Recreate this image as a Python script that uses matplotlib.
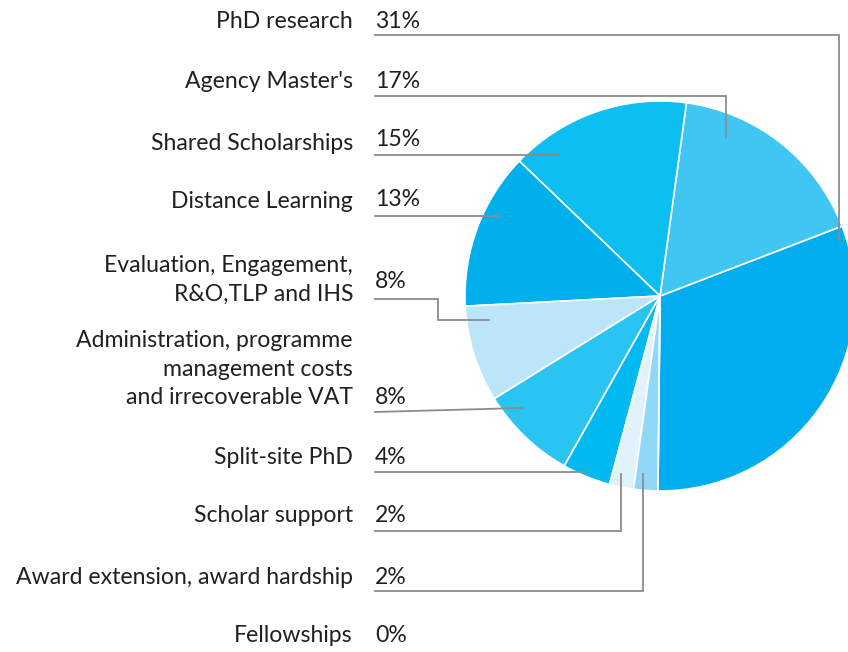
import matplotlib
matplotlib.use("Agg")
import matplotlib.pyplot as plt

# slices, counterclockwise from the bottom
categories = ["PhD research", "Agency Master's", "Shared Scholarships", "Distance Learning",
              "Evaluation, Engagement,\nR&O,TLP and IHS",
              "Administration, programme\nmanagement costs\nand irrecoverable VAT",
              "Split-site PhD", "Scholar support", "Award extension, award hardship", "Fellowships"]
shares = [31, 17, 15, 13, 8, 8, 4, 2, 2, 0]
pct_labels = ["31%", "17%", "15%", "13%", "8%", "8%", "4%", "2%", "2%", "0%"]
colors = ["#00AEEF", "#40C6F3", "#0DBEF0", "#00B0EC", "#BDE5F9",
          "#29C4F2", "#00B9F0", "#E0F3FC", "#8FD8F7", "#FFFFFF"]

W, H = 848, 652
fig = plt.figure(figsize=(W / 100, H / 100), dpi=100)
ax = fig.add_axes([0, 0, 1, 1])

def Y(y):
    return H - y

cx, cy, r = 660, 296, 195
ax.pie(shares, colors=colors, startangle=-90.6, counterclock=True,
       center=(cx, Y(cy)), radius=r, frame=True,
       wedgeprops=dict(edgecolor="white", linewidth=1.2))
ax.set_xlim(0, W)
ax.set_ylim(0, H)
ax.set_aspect("equal")
ax.axis("off")

font = "Lato"
tc = "#231F20"
fs = 16.6
label_y = [21, 81, 144, 202, 280, 369, 458, 516, 577, 636]
pct_y = [21, 81, 140, 200, 282, 397, 458, 516, 577, 636]
for lab, ly, p, py in zip(categories, label_y, pct_labels, pct_y):
    ax.text(353, Y(ly), lab, ha="right", va="center", fontsize=fs, family=font,
            color=tc, linespacing=1.45, multialignment="right")
    ax.text(375, Y(py), p, ha="left", va="center", fontsize=fs, family=font, color=tc)

# leader lines (pixel paths)
leaders = [
    [(375, 35), (839, 35), (839, 240)],
    [(375, 96), (726, 96), (726, 137)],
    [(375, 155), (559, 155)],
    [(375, 216), (501, 216)],
    [(375, 299), (438, 299), (438, 320), (489, 320)],
    [(375, 412), (522, 408)],
    [(375, 472), (586, 472)],
    [(375, 531), (621, 531), (621, 474)],
    [(375, 591), (643, 591), (643, 474)],
]
for path in leaders:
    xs = [p[0] for p in path]
    ys = [Y(p[1]) for p in path]
    ax.plot(xs, ys, color="#8C8C8C", lw=1.3, solid_joinstyle="miter")

fig.savefig("out.png", dpi=100)
